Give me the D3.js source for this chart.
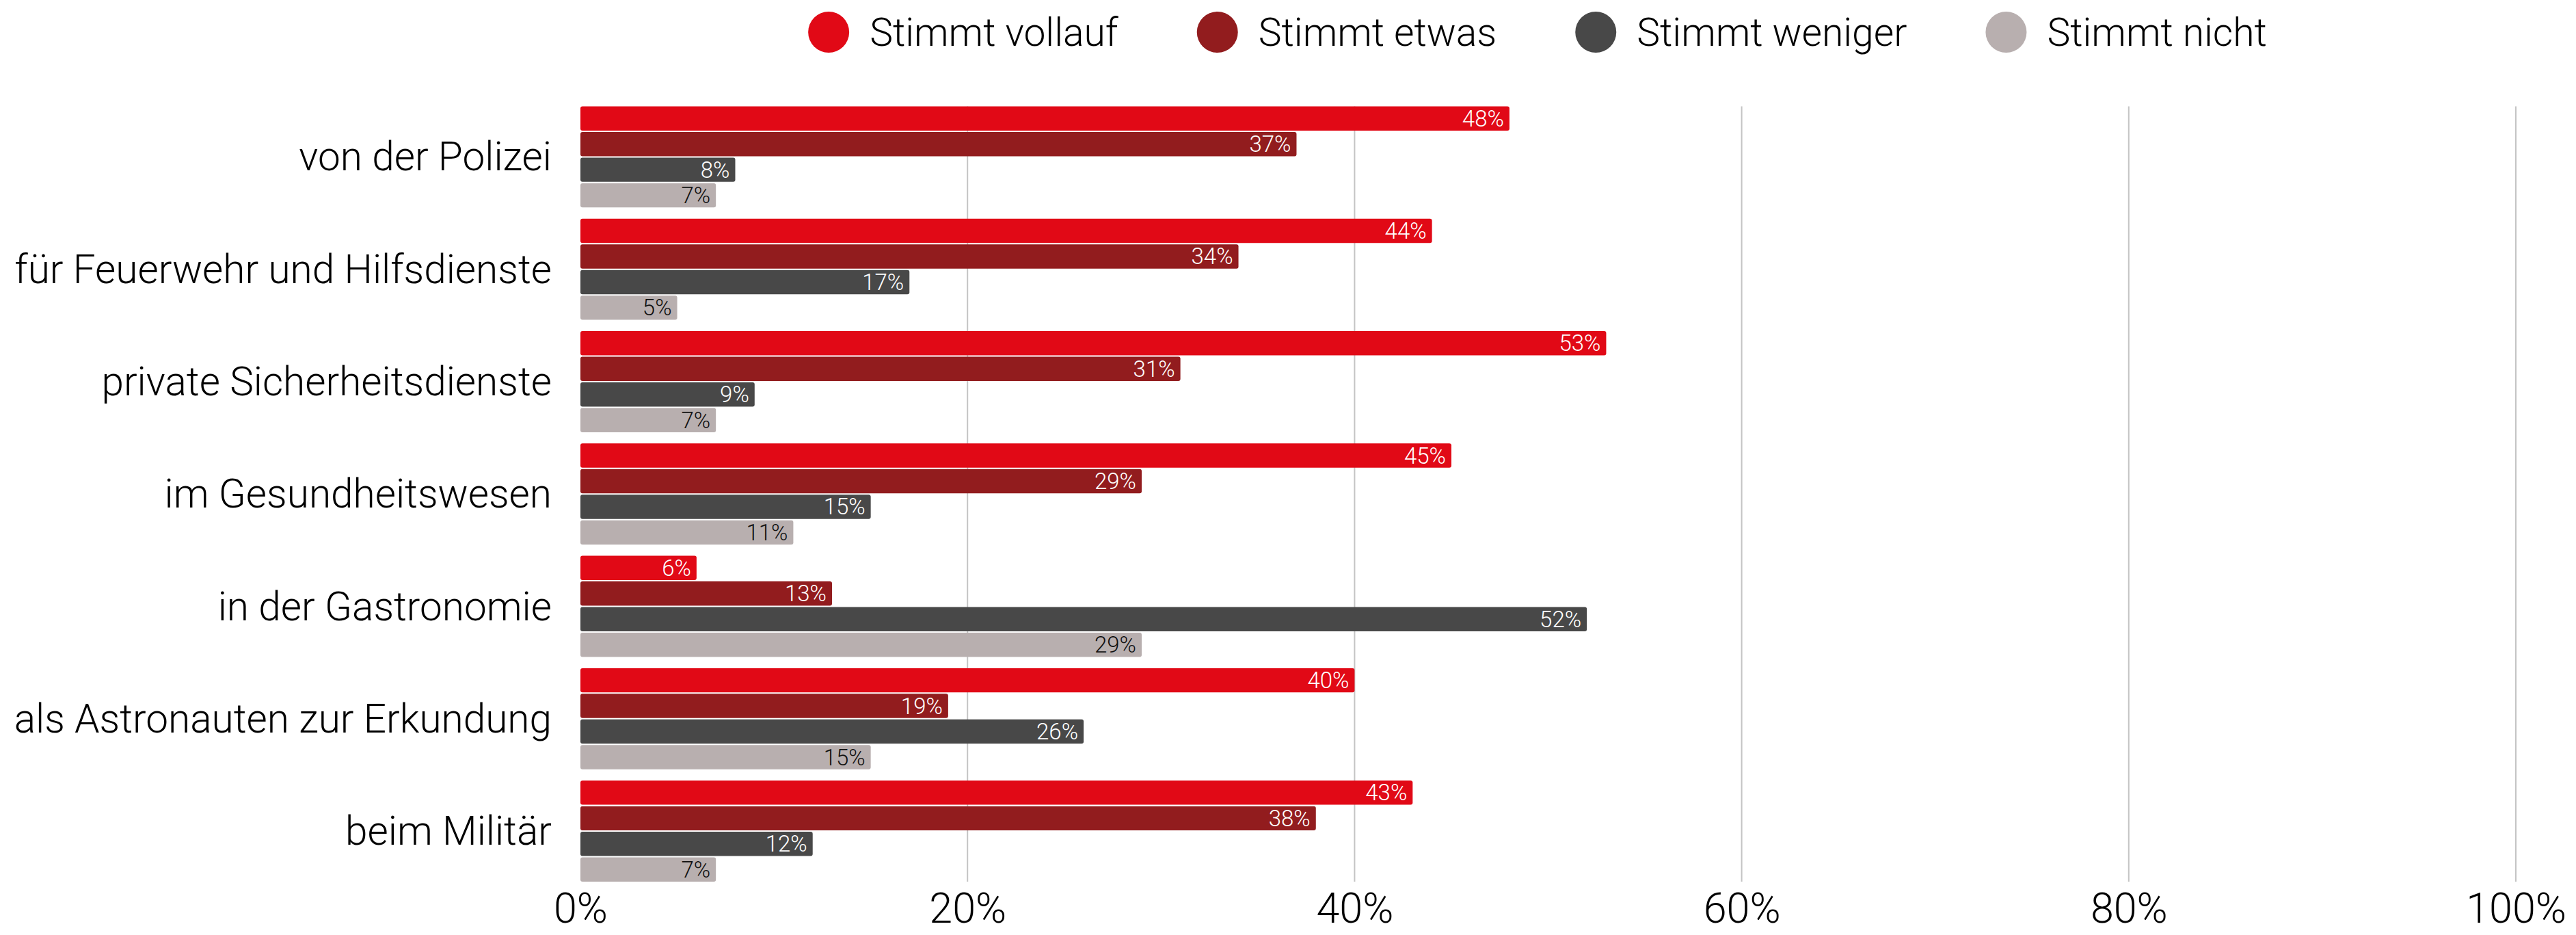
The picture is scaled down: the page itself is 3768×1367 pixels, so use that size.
<!DOCTYPE html>
<html>
<head>
<meta charset="utf-8">
<script src="https://cdn.jsdelivr.net/npm/d3@7"></script>
<style>
  html, body { margin: 0; padding: 0; background: #fff; }
  svg { display: block; }
  text { font-family: Roboto, "Noto Sans", sans-serif; }
</style>
</head>
<body>
<svg id="chart" width="3768" height="1367"></svg>
<script>
const categories = [
  "von der Polizei",
  "für Feuerwehr und Hilfsdienste",
  "private Sicherheitsdienste",
  "im Gesundheitswesen",
  "in der Gastronomie",
  "als Astronauten zur Erkundung",
  "beim Militär"
];
const seriesNames = ["Stimmt vollauf", "Stimmt etwas", "Stimmt weniger", "Stimmt nicht"];
const seriesColors = ["#e10916", "#921c1e", "#484848", "#b8afaf"];
const labelColors = ["#ffffff", "#ffffff", "#ffffff", "#111111"];
const vollauf = [48, 44, 53, 45, 6, 40, 43];
const etwas   = [37, 34, 31, 29, 13, 19, 38];
const weniger = [8, 17, 9, 15, 52, 26, 12];
const nicht   = [7, 5, 7, 11, 29, 15, 7];
const tickValues = [0, 20, 40, 60, 80, 100];

const series = [vollauf, etwas, weniger, nicht];

const svg = d3.select("#chart");
const plotLeft = 849, plotRight = 3680, plotTop = 155.5, plotBottom = 1289;

const x = d3.scaleLinear().domain([0, 100]).range([plotLeft, plotRight]);
const y = d3.scaleBand().domain(categories).range([plotTop, plotBottom]).paddingInner(0.1).paddingOuter(0);
const ySub = d3.scaleBand().domain(seriesNames).range([0, y.bandwidth()]).paddingInner(0.055);

// gridlines
svg.append("g").selectAll("line")
  .data(tickValues.filter(d => d > 0))
  .join("line")
  .attr("x1", d => x(d)).attr("x2", d => x(d))
  .attr("y1", plotTop).attr("y2", plotBottom)
  .attr("stroke", "#c4c4c4").attr("stroke-width", 2);

// x axis
const xAxis = d3.axisBottom(x).tickValues(tickValues).tickFormat(d => d + "%").tickSize(0).tickPadding(0);
const gx = svg.append("g").attr("transform", `translate(0,${plotBottom})`).call(xAxis);
gx.select(".domain").remove();
gx.selectAll("text")
  .attr("y", 0).attr("dy", null)
  .attr("transform", "translate(0,60)")
  .style("font-size", "61px").style("font-weight", 300)
  .attr("fill", "#000");

// y axis labels
const yAxis = d3.axisLeft(y).tickSize(0).tickPadding(42);
const gy = svg.append("g").attr("transform", `translate(${plotLeft},0)`).call(yAxis);
gy.select(".domain").remove();
gy.selectAll("text")
  .attr("dy", null).attr("dominant-baseline", "central")
  .style("font-size", "58.5px").style("font-weight", 300)
  .attr("fill", "#000");

// bars
const rows = [];
categories.forEach((c, i) => {
  series.forEach((s, j) => rows.push({ cat: c, name: seriesNames[j], j, v: s[i] }));
});

const bars = svg.append("g").selectAll("g").data(rows).join("g")
  .attr("transform", d => `translate(0,${y(d.cat) + ySub(d.name)})`);

bars.append("rect")
  .attr("x", x(0))
  .attr("y", 0)
  .attr("width", d => x(d.v) - x(0))
  .attr("height", ySub.bandwidth())
  .attr("rx", 3).attr("ry", 3)
  .attr("fill", d => seriesColors[d.j]);

bars.append("text")
  .attr("x", d => x(d.v) - 8)
  .attr("y", ySub.bandwidth() / 2)
  .attr("text-anchor", "end")
  .attr("dominant-baseline", "central")
  .style("font-size", "33px").style("font-weight", 300)
  .attr("fill", d => labelColors[d.j])
  .text(d => d.v + "%");

// legend
const legend = svg.append("g");
const items = legend.selectAll("g").data(seriesNames).join("g");
items.append("circle").attr("r", 30).attr("cx", 30).attr("cy", 0)
  .attr("fill", (d, i) => seriesColors[i]);
items.append("text").attr("x", 90).attr("y", 0)
  .attr("dominant-baseline", "central")
  .style("font-size", "57px").style("font-weight", 300)
  .attr("fill", "#000")
  .text(d => d);
let cx = 0;
const gap = 115;
items.each(function() {
  const w = 90 + this.querySelector("text").getComputedTextLength();
  d3.select(this).attr("transform", `translate(${cx},47)`);
  cx += w + gap;
});
const totalW = cx - gap;
legend.attr("transform", `translate(${(1197 + 3301) / 2 - totalW / 2},0)`);
</script>
</body>
</html>
